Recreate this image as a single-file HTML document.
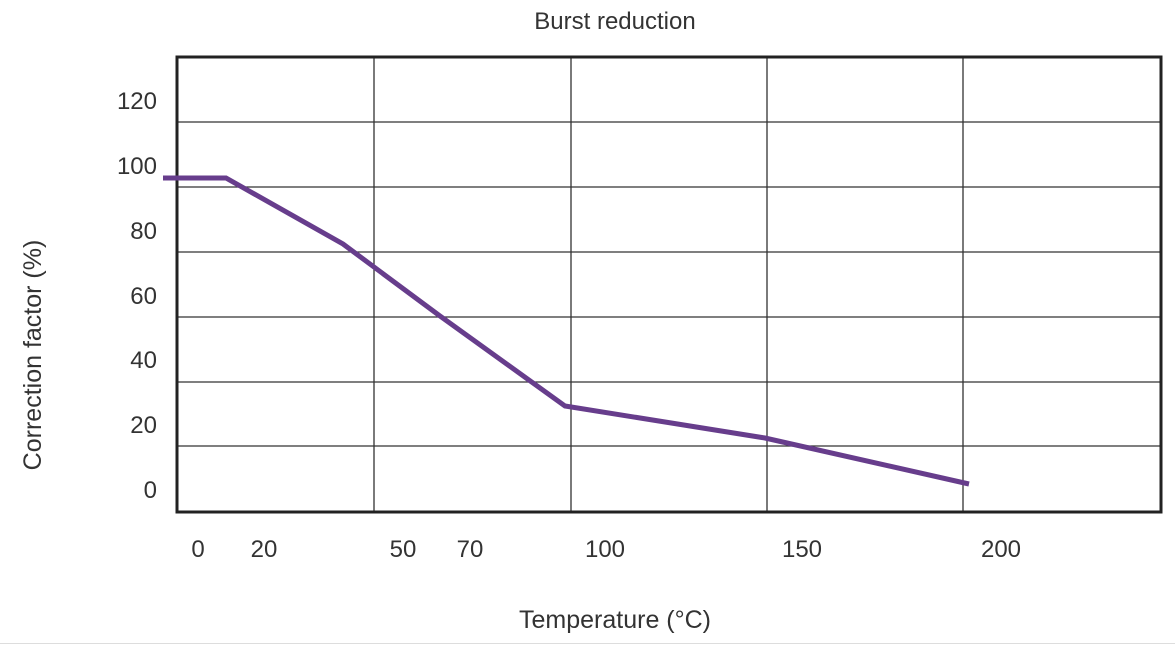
<!DOCTYPE html>
<html><head><meta charset="utf-8"><style>
html,body{margin:0;padding:0;background:#fff;}
svg{display:block;}
text{font-family:"Liberation Sans",sans-serif;fill:#333;}
</style></head><body>
<svg width="1175" height="645" viewBox="0 0 1175 645">
<text x="615" y="29" font-size="24" text-anchor="middle">Burst reduction</text>
<g stroke="#333" stroke-width="1.3">
<line x1="374" y1="57" x2="374" y2="512"/>
<line x1="571" y1="57" x2="571" y2="512"/>
<line x1="767" y1="57" x2="767" y2="512"/>
<line x1="963" y1="57" x2="963" y2="512"/>
<line x1="177" y1="122" x2="1161" y2="122"/>
<line x1="177" y1="187" x2="1161" y2="187"/>
<line x1="177" y1="252" x2="1161" y2="252"/>
<line x1="177" y1="317" x2="1161" y2="317"/>
<line x1="177" y1="382" x2="1161" y2="382"/>
<line x1="177" y1="446" x2="1161" y2="446"/>
</g>
<rect x="177" y="57" width="984" height="455" fill="none" stroke="#222" stroke-width="3"/>
<polyline points="163,178 226,178 343,244 440,316 565,406 765,438 969,484" fill="none" stroke="#673d8c" stroke-width="5"/>
<g font-size="24" text-anchor="end">
<text x="157" y="109">120</text>
<text x="157" y="174">100</text>
<text x="157" y="239">80</text>
<text x="157" y="304">60</text>
<text x="157" y="368">40</text>
<text x="157" y="433">20</text>
<text x="157" y="498">0</text>
</g>
<g font-size="24" text-anchor="middle">
<text x="198" y="557">0</text>
<text x="264" y="557">20</text>
<text x="403" y="557">50</text>
<text x="470" y="557">70</text>
<text x="605" y="557">100</text>
<text x="802" y="557">150</text>
<text x="1001" y="557">200</text>
</g>
<text x="615" y="628" font-size="25" text-anchor="middle">Temperature (°C)</text>
<text transform="translate(41,355) rotate(-90)" font-size="25" text-anchor="middle">Correction factor (%)</text>
<line x1="0" y1="643.5" x2="1175" y2="643.5" stroke="#ddd" stroke-width="1"/>
</svg>
</body></html>
